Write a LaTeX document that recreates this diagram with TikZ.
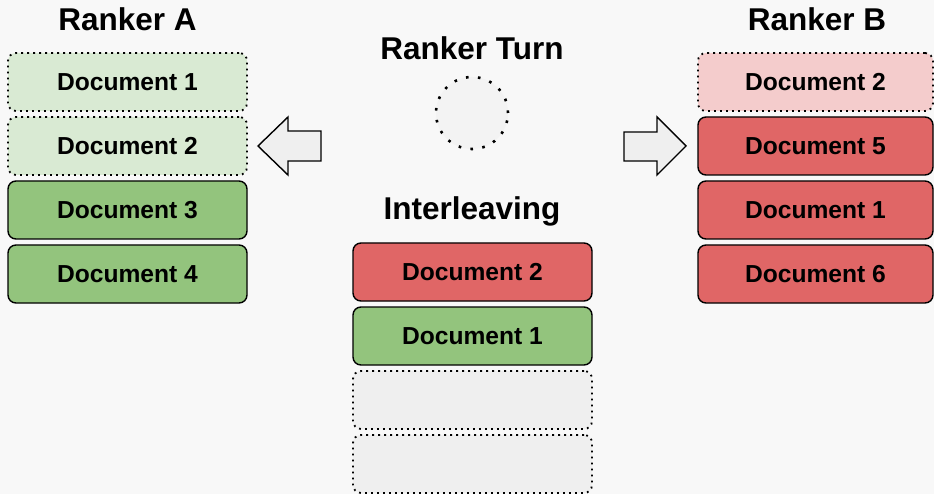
\documentclass[tikz,border=0pt]{standalone}
\usepackage{fontspec}
\setmainfont{Liberation Sans}
\definecolor{paper}{HTML}{F8F8F8}
\definecolor{greendark}{HTML}{93C47D}
\definecolor{greenlight}{HTML}{D9EAD3}
\definecolor{reddark}{HTML}{E06666}
\definecolor{redlight}{HTML}{F4CCCC}
\definecolor{emptygray}{HTML}{EFEFEF}
\definecolor{turngray}{HTML}{F3F3F3}
\begin{document}
\begin{tikzpicture}
    [
    x=1pt, y=-1pt,
    doc/.style={
      rectangle,
      rounded corners=8pt,
      minimum width=239pt,
      minimum height=58pt,
      line width=1.4pt,
      draw=black,
      font=\fontsize{24.6}{28}\selectfont\bfseries
    },
    taken/.style={
      line width=1.8pt,
      dash pattern=on 1.8pt off 4.2pt
    },
    title/.style={
      anchor=base,
      font=\fontsize{31.5}{34}\selectfont\bfseries
    },
    bigarrow/.style={
      draw=black,
      fill=emptygray,
      line width=1.4pt
    }
    ]
    \useasboundingbox [fill=paper] (0,0) rectangle (934,494);
    % ranker A
    \node (rankerA) at (127.5,31) [title] {Ranker A};
    \node (a1) at (127.5,82) [doc, taken, fill=greenlight] {Document 1};
    \node (a2) at (127.5,146) [doc, taken, fill=greenlight] {Document 2};
    \node (a3) at (127.5,210) [doc, fill=greendark] {Document 3};
    \node (a4) at (127.5,274) [doc, fill=greendark] {Document 4};
    % ranker B
    \node (rankerB) at (817,31) [title] {Ranker B};
    \node (b1) at (815.5,82) [doc, taken, fill=redlight, minimum width=235pt] {Document 2};
    \node (b2) at (815.5,146) [doc, fill=reddark, minimum width=235pt] {Document 5};
    \node (b3) at (815.5,210) [doc, fill=reddark, minimum width=235pt] {Document 1};
    \node (b4) at (815.5,274) [doc, fill=reddark, minimum width=235pt] {Document 6};
    % turn
    \node (turn) at (472,60) [title] {Ranker Turn};
    \node (coin) at (472,113) [circle, minimum size=72pt, fill=turngray,
      draw=black, line width=2.6pt, dash pattern=on 2.6pt off 9.4pt] {};
    % interleaved list
    \node (mix) at (472,220) [title] {Interleaving};
    \node (m1) at (472.5,272) [doc, fill=reddark] {Document 2};
    \node (m2) at (472.5,336) [doc, fill=greendark] {Document 1};
    \node (m3) at (472.5,400) [doc, taken, fill=emptygray] {};
    \node (m4) at (472.5,464) [doc, taken, fill=emptygray] {};
    % arrows
    \draw [bigarrow] (258,146) -- (288,117) -- (288,131) -- (321,131)
      -- (321,161) -- (288,161) -- (288,175) -- cycle;
    \draw [bigarrow] (686,146) -- (657,117) -- (657,132) -- (624,132)
      -- (624,161) -- (657,161) -- (657,175) -- cycle;
  \end{tikzpicture}
\end{document}
